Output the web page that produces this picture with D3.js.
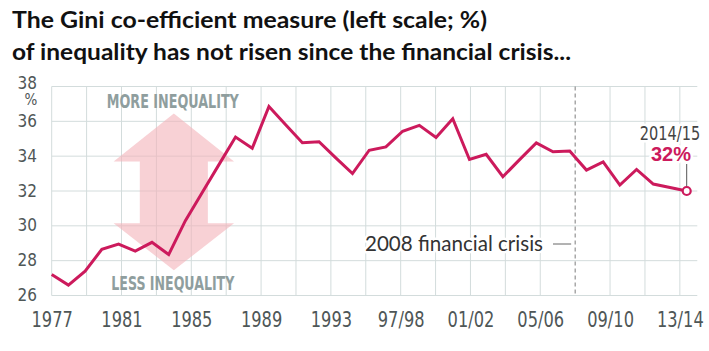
<!DOCTYPE html>
<html>
<head>
<meta charset="utf-8">
<script src="https://d3js.org/d3.v7.min.js"></script>
<style>
  body { margin: 0; background: #fff; }
  svg { display: block; }
  .halo { stroke: #fff; stroke-width: 5px; paint-order: stroke; stroke-linejoin: round; }
</style>
</head>
<body>
<svg id="chart" width="709" height="351"></svg>
<script>
// Data (Gini, %)
const periods = ["1977", "1978", "1979", "1980", "1981", "1982", "1983", "1984", "1985", "1986",
  "1987", "1988", "1989", "1990", "1991", "1992", "1993", "1993/94", "1994/95", "1995/96",
  "1996/97", "1997/98", "1998/99", "1999/00", "2000/01", "2001/02", "2002/03", "2003/04", "2004/05",
  "2005/06", "2006/07", "2007/08", "2008/09", "2009/10", "2010/11", "2011/12", "2012/13", "2013/14", "2014/15"];
const gini = [27.2, 26.6, 27.4, 28.65, 28.95, 28.55, 29.05, 28.35, 30.3, 31.9,
  33.5, 35.1, 34.45, 36.85, 35.8, 34.77, 34.83, 33.9, 33.0, 34.34,
  34.53, 35.43, 35.77, 35.07, 36.15, 33.81, 34.11, 32.82, 33.8,
  34.76, 34.25, 34.3, 33.2, 33.67, 32.34, 33.24, 32.4, 32.2, 32.0];

const yTicks = [26, 28, 30, 32, 34, 36, 38];
const gridYears = [1977, 1979, 1981, 1983, 1985, 1987, 1989, 1991, 1993, 1995, 1997, 1999,
  2001, 2003, 2005, 2009, 2011, 2013];
const labelYears = [1977, 1981, 1985, 1989, 1993, 1997, 2001, 2005, 2009, 2013];
const labelText = ["1977", "1981", "1985", "1989", "1993", "97/98", "01/02", "05/06", "09/10", "13/14"];
const crisisYear = 2007;

const svg = d3.select("#chart");
const red = "#cc1a5c";
const gridColor = "#d3dcdc";
const narrow = "'Liberation Sans Narrow', 'DejaVu Sans Condensed', sans-serif";

// scales
const gx = d3.scaleLinear().domain([1977, 2014]).range([51.7, 697.3]);
const x = d3.scalePoint().domain(periods).range([51.7, 686.7]);
const y = d3.scaleLinear().domain([26, 38]).range([295.5, 86.5]);

// title
const title = svg.append("g")
  .attr("font-family", "Lato, 'Open Sans', sans-serif")
  .attr("font-weight", "bold")
  .attr("font-size", 22)
  .attr("fill", "#111");
title.append("text").attr("x", 12).attr("y", 28)
  .attr("textLength", 475).attr("lengthAdjust", "spacingAndGlyphs")
  .text("The Gini co-efficient measure (left scale; %)");
title.append("text").attr("x", 12).attr("y", 60)
  .attr("textLength", 559).attr("lengthAdjust", "spacingAndGlyphs")
  .text("of inequality has not risen since the financial crisis...");

// grid
svg.append("g").selectAll("line")
  .data(yTicks)
  .join("line")
  .attr("x1", gx(1977)).attr("x2", gx(2014))
  .attr("y1", d => y(d)).attr("y2", d => y(d))
  .attr("stroke", gridColor).attr("stroke-width", 1);

svg.append("g").selectAll("line")
  .data(gridYears)
  .join("line")
  .attr("x1", d => gx(d)).attr("x2", d => gx(d))
  .attr("y1", y(38)).attr("y2", y(26))
  .attr("stroke", gridColor).attr("stroke-width", 1);

// big pink double arrow
const ac = 1984, head = 3.45, shaft = 1.95;
const arrowPts = [
  [ac, 36.45], [ac + head, 33.7], [ac + shaft, 33.7], [ac + shaft, 30.15], [ac + head, 30.15],
  [ac, 27.45], [ac - head, 30.15], [ac - shaft, 30.15], [ac - shaft, 33.7], [ac - head, 33.7]
];
svg.append("path")
  .attr("d", d3.line().x(d => gx(d[0])).y(d => y(d[1]))(arrowPts) + "Z")
  .attr("fill", "#f4b3b9")
  .attr("opacity", 0.6);

const note = svg.append("g")
  .attr("font-family", narrow)
  .attr("font-weight", "bold")
  .attr("font-size", 20)
  .attr("fill", "#8f9e9e")
  .attr("text-anchor", "middle");
note.append("text").attr("x", gx(ac) - 1).attr("y", 107.5)
  .attr("textLength", 132).attr("lengthAdjust", "spacingAndGlyphs")
  .text("MORE INEQUALITY");
note.append("text").attr("x", gx(ac) - 1).attr("y", 290)
  .attr("textLength", 123).attr("lengthAdjust", "spacingAndGlyphs")
  .text("LESS INEQUALITY");

// crisis marker
svg.append("line")
  .attr("x1", gx(crisisYear)).attr("x2", gx(crisisYear))
  .attr("y1", y(38)).attr("y2", y(26))
  .attr("stroke", "#7d7d7d").attr("stroke-width", 1)
  .attr("stroke-dasharray", "4,3");
svg.append("text")
  .attr("class", "halo")
  .attr("x", 365).attr("y", 251)
  .attr("font-family", "Lato, 'Open Sans', sans-serif")
  .attr("font-size", 21)
  .attr("fill", "#333")
  .attr("textLength", 178).attr("lengthAdjust", "spacingAndGlyphs")
  .text("2008 financial crisis");
svg.append("line")
  .attr("x1", 553).attr("x2", gx(crisisYear) - 4)
  .attr("y1", 244).attr("y2", 244)
  .attr("stroke", "#666").attr("stroke-width", 1);

// y axis labels
const yAxis = svg.append("g")
  .attr("transform", "translate(37,0)")
  .call(d3.axisLeft(y).tickValues(yTicks).tickSize(0).tickPadding(0));
yAxis.select(".domain").remove();
yAxis.selectAll("text")
  .attr("font-family", narrow)
  .attr("font-size", 17)
  .attr("fill", "#4f5757")
  .attr("dy", d => d === 38 ? "0.1em" : "0.3em");
svg.append("text")
  .attr("x", 31).attr("y", 105)
  .attr("text-anchor", "middle")
  .attr("font-family", narrow)
  .attr("font-size", 15)
  .attr("fill", "#4f5757")
  .text("%");

// x axis labels
const xAxis = svg.append("g")
  .attr("transform", "translate(0,326.5)")
  .call(d3.axisBottom(gx).tickValues(labelYears)
    .tickFormat((d, i) => labelText[i]).tickSize(0).tickPadding(0));
xAxis.select(".domain").remove();
xAxis.selectAll("text")
  .attr("font-family", narrow)
  .attr("font-size", 21)
  .attr("fill", "#4f5757")
  .attr("y", 0).attr("dy", 0)
  .attr("transform", "scale(0.86,1)");

// the line
svg.append("path")
  .datum(gini)
  .attr("d", d3.line().x((d, i) => x(periods[i])).y(d => y(d)))
  .attr("fill", "none")
  .attr("stroke", red)
  .attr("stroke-width", 3);

// end marker + label
const lastP = periods[periods.length - 1];
const lastV = gini[gini.length - 1];
svg.append("g")
  .attr("transform", "translate(670,139.5) scale(0.85,1)")
  .append("text")
  .attr("class", "halo")
  .attr("text-anchor", "middle")
  .attr("font-family", narrow)
  .attr("font-size", 19)
  .attr("fill", "#444")
  .text(lastP);
svg.append("text")
  .attr("class", "halo")
  .attr("x", 671).attr("y", 161)
  .attr("text-anchor", "middle")
  .attr("font-family", "'Liberation Sans', Arial, sans-serif")
  .attr("font-weight", "bold")
  .attr("font-size", 20)
  .attr("fill", red)
  .text(Math.round(lastV) + "%");
svg.append("line")
  .attr("x1", x(lastP)).attr("x2", x(lastP))
  .attr("y1", 164).attr("y2", y(lastV) - 4)
  .attr("stroke", "#555").attr("stroke-width", 1);
svg.append("circle")
  .attr("cx", x(lastP)).attr("cy", y(lastV)).attr("r", 4)
  .attr("fill", "#fff").attr("stroke", red).attr("stroke-width", 2.2);
</script>
</body>
</html>
